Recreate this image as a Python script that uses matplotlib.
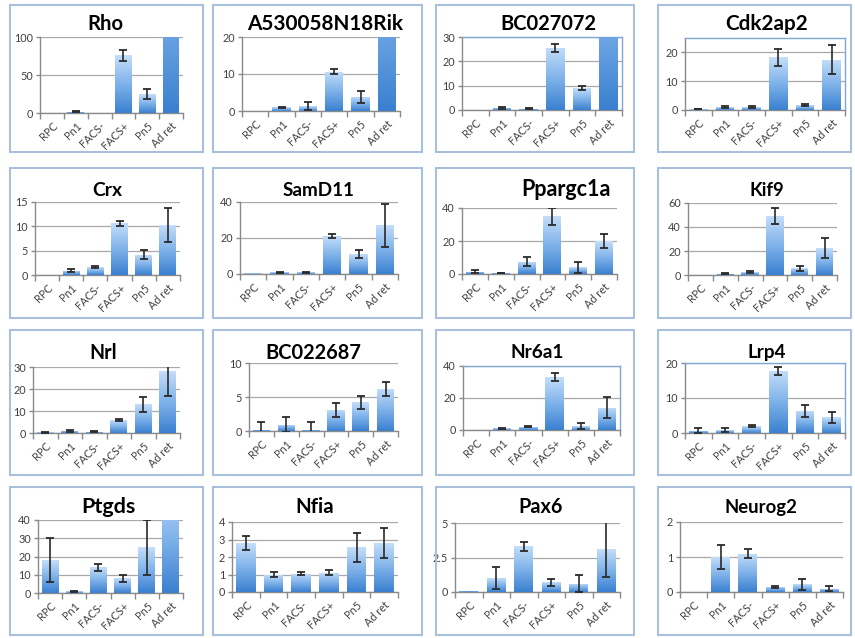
import numpy as np
import matplotlib
matplotlib.use("Agg")
import matplotlib.pyplot as plt
from matplotlib.colors import LinearSegmentedColormap
from matplotlib.patches import Rectangle
from matplotlib.path import Path

plt.rcParams['font.family'] = ['Lato', 'DejaVu Sans']

categories = ["RPC", "Pn1", "FACS-", "FACS+", "Pn5", "Ad ret"]

genes = ["Rho", "A530058N18Rik", "BC027072", "Cdk2ap2",
         "Crx", "SamD11", "Ppargc1a", "Kif9",
         "Nrl", "BC022687", "Nr6a1", "Lrp4",
         "Ptgds", "Nfia", "Pax6", "Neurog2"]

rho_mean = [0.3, 1.5, 0.3, 76, 25, 300]
rho_err = [0, 0.6, 0, 7, 6, 0]
a530_mean = [0.1, 1.0, 1.3, 10.6, 3.8, 60]
a530_err = [0, 0.1, 1.1, 0.7, 1.7, 0]
bc027_mean = [0.1, 1.0, 0.6, 25.5, 9.0, 80]
bc027_err = [0, 0.4, 0.2, 1.5, 0.8, 0]
cdk_mean = [0.3, 1.0, 1.0, 18.3, 1.7, 17.5]
cdk_err = [0.1, 0.3, 0.3, 3.0, 0.3, 5.0]
crx_mean = [0.05, 0.9, 1.6, 10.6, 4.2, 10.2]
crx_err = [0, 0.3, 0.15, 0.5, 1.0, 3.5]
samd_mean = [0.3, 1.0, 1.0, 21, 11, 27]
samd_err = [0, 0.2, 0.2, 1.0, 2.3, 12]
ppar_mean = [1.5, 0.7, 7.5, 35, 4.0, 20]
ppar_err = [0.7, 0.2, 2.8, 5.0, 3.3, 4.5]
kif_mean = [0.3, 1.0, 2.5, 49, 5.5, 22.5]
kif_err = [0, 0.3, 0.6, 6.5, 1.8, 8.0]
nrl_mean = [0.3, 1.0, 0.6, 5.8, 13, 28]
nrl_err = [0.1, 0.4, 0.2, 0.4, 3.5, 11]
bc0226_mean = [0.2, 0.9, 0.2, 3.1, 4.2, 6.2]
bc0226_err = [1.1, 1.1, 1.1, 1.0, 1.0, 1.0]
nr6_mean = [0.3, 1.0, 2.0, 33, 2.5, 14]
nr6_err = [0, 0.3, 0.4, 2.5, 2.0, 6.5]
lrp_mean = [0.7, 0.8, 2.0, 17.8, 6.3, 4.5]
lrp_err = [0.7, 0.5, 0.2, 1.1, 1.6, 1.6]
ptg_mean = [18, 1.0, 14, 8, 25, 60]
ptg_err = [12, 0.3, 2.0, 2.0, 15, 0]
nfia_mean = [2.8, 1.0, 1.05, 1.1, 2.55, 2.8]
nfia_err = [0.4, 0.15, 0.1, 0.15, 0.85, 0.85]
pax_mean = [0.1, 1.0, 3.3, 0.7, 0.6, 3.1]
pax_err = [0, 0.8, 0.35, 0.25, 0.6, 2.0]
neu_mean = [0.0, 1.0, 1.1, 0.15, 0.22, 0.1]
neu_err = [0, 0.35, 0.12, 0.03, 0.15, 0.07]

means = [rho_mean, a530_mean, bc027_mean, cdk_mean, crx_mean, samd_mean, ppar_mean, kif_mean,
         nrl_mean, bc0226_mean, nr6_mean, lrp_mean, ptg_mean, nfia_mean, pax_mean, neu_mean]
errs = [rho_err, a530_err, bc027_err, cdk_err, crx_err, samd_err, ppar_err, kif_err,
        nrl_err, bc0226_err, nr6_err, lrp_err, ptg_err, nfia_err, pax_err, neu_err]

y_max = [100, 20, 30, 25, 15, 40, 40, 60, 30, 10, 40, 20, 40, 4, 5, 2]
y_ticks = [[0, 50, 100], [0, 10, 20], [0, 10, 20, 30], [0, 10, 20], [0, 5, 10, 15],
           [0, 20, 40], [0, 20, 40], [0, 20, 40, 60], [0, 10, 20, 30], [0, 5, 10],
           [0, 20, 40], [0, 10, 20], [0, 10, 20, 30, 40], [0, 1, 2, 3, 4], [0, 2.5, 5], [0, 1, 2]]
y_ticklabels = [None] * 16
y_ticklabels[14] = ["0", "2.5", "5"]

# layout (pixels): axes left, right, top, bottom
axes_px = [(40, 183, 37, 113), (242, 400, 37, 111), (462, 622, 37, 110), (685, 845, 38, 110),
           (35, 180, 202, 275), (240, 398, 202, 274), (462, 617, 208, 274), (688, 837, 203, 275),
           (33, 180, 367, 433), (249, 398, 363, 431), (463, 620, 366, 430), (685, 845, 363, 433),
           (38, 183, 520, 593), (232, 398, 522, 592), (455, 620, 523, 592), (680, 843, 522, 592)]
panel_rows = [(5, 152), (168, 318), (330, 475), (487, 635)]
panel_cols = [(10, 203), (213, 422), (436, 634), (658, 851)]
title_y = [24, 190, 353, 507]
title_x = [105, 325, 548, 767, 107, 318, 566, 767, 103, 313, 537, 767, 108, 315, 541, 761]
title_w = [33, 157, 93, 82, 32, 78, 107, 37, 30, 93, 57, 40, 56, 44, 49, 78]
title_cap = [16, 15, 15, 15, 13, 12.5, 13, 12.5, 13, 15, 13, 13, 15, 13, 13, 12.5]
boxed = {2, 3, 10, 11}

W, H = 855, 638
fig = plt.figure(figsize=(W / 100, H / 100), dpi=100)
fig.patch.set_facecolor('white')

cmap = LinearSegmentedColormap.from_list('bar', ['#3a80d0', '#7fb2ea', '#c4def9'])
grad = np.linspace(0, 1, 256).reshape(-1, 1)

# panel frames
for (t, b) in panel_rows:
    for (l, r) in panel_cols:
        fig.add_artist(Rectangle((l / W, 1 - b / H), (r - l) / W, (b - t) / H,
                                 transform=fig.transFigure, fill=False,
                                 edgecolor='#a9c0dc', lw=1.5))

titles = []
for i in range(16):
    l, r, t, b = axes_px[i]
    ax = fig.add_axes([l / W, 1 - b / H, (r - l) / W, (b - t) / H])
    x = np.arange(len(categories))
    vals = np.array(means[i], dtype=float)
    e = np.array(errs[i], dtype=float)
    bars = ax.bar(x, vals, width=0.7, color='none', edgecolor='none', zorder=3)
    ymax = y_max[i]
    for bar, v in zip(bars, vals):
        if v <= 0:
            continue
        x0 = bar.get_x()
        w = bar.get_width()
        im = ax.imshow(grad, extent=[x0, x0 + w, 0, v], aspect='auto', cmap=cmap,
                       origin='lower', zorder=3, interpolation='bilinear')
        top = min(v, ymax)
        clip = Path([(x0, 0), (x0 + w, 0), (x0 + w, top), (x0, top), (x0, 0)],
                    [Path.MOVETO, Path.LINETO, Path.LINETO, Path.LINETO, Path.CLOSEPOLY])
        im.set_clip_path(clip, ax.transData)
    m = e > 0
    ax.errorbar(x[m], vals[m], yerr=e[m], fmt='none', ecolor='#2a2a2a',
                elinewidth=1.2, capsize=3, capthick=1.3, zorder=4)
    ax.set_xlim(-0.5, len(categories) - 0.5)
    ax.set_ylim(0, ymax)
    ax.set_yticks(y_ticks[i])
    if y_ticklabels[i] is not None:
        ax.set_yticklabels(y_ticklabels[i])
    ax.set_xticks(x)
    ax.set_xticklabels(categories, rotation=45, ha='right', rotation_mode='anchor',
                       fontsize=7.8, color='#404040')
    ax.set_xticks(np.arange(-0.5, len(categories)), minor=True)
    ax.tick_params(axis='x', which='major', length=0, pad=5)
    ax.tick_params(axis='x', which='minor', length=4, color='#8a8a8a', width=1)
    ax.tick_params(axis='y', length=3, color='#8a8a8a', width=1, labelsize=7.8,
                   labelcolor='#404040', pad=2)
    ax.yaxis.grid(True, color='#a8a8a8', lw=0.9)
    ax.set_axisbelow(True)
    for s in ['left', 'bottom']:
        ax.spines[s].set_color('#8a8a8a')
        ax.spines[s].set_linewidth(1)
    if i in boxed:
        for s in ['top', 'right']:
            ax.spines[s].set_color('#7fa6d6')
            ax.spines[s].set_linewidth(1)
    else:
        ax.spines['top'].set_visible(False)
        ax.spines['right'].set_visible(False)
    ax.set_facecolor('none')
    row = i // 4
    tt = fig.text(title_x[i] / W, 1 - title_y[row] / H, genes[i], ha='center', va='center',
                  fontsize=15, fontweight='bold', color='black')
    titles.append(tt)

renderer = fig.canvas.get_renderer()
for tt, tw, cap in zip(titles, title_w, title_cap):
    wpx = tt.get_window_extent(renderer).width
    fs_w = 15 * tw / wpx
    fs_h = cap
    tt.set_fontsize(np.sqrt(fs_w * fs_h))

fig.savefig('out.png', dpi=100, facecolor='white')
